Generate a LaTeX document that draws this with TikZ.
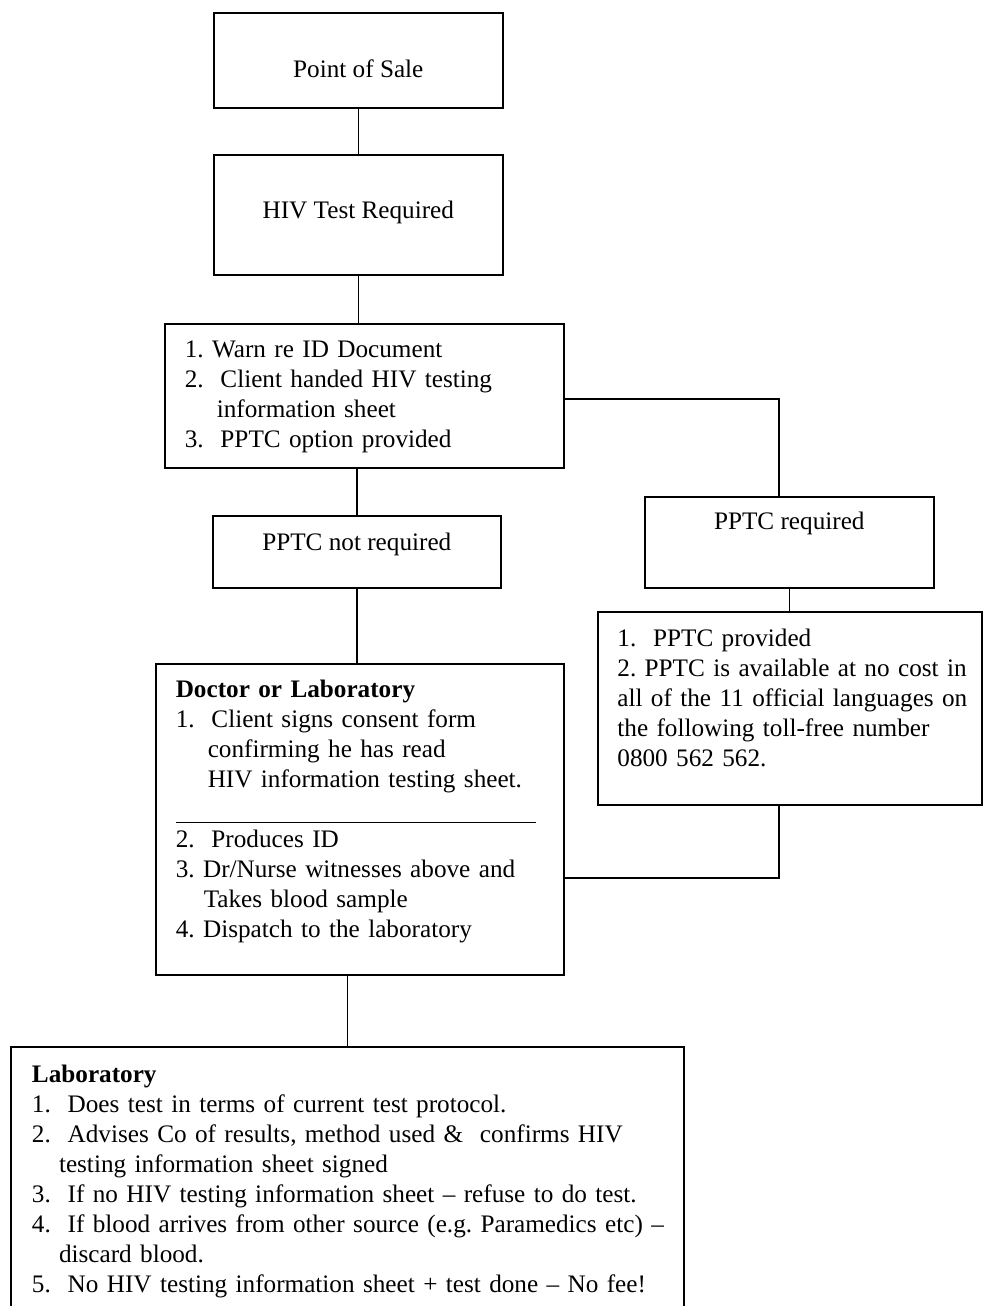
\documentclass[tikz,border=0pt]{standalone}
\usepackage{fontspec}
\setmainfont{Liberation Serif}
\frenchspacing
\tikzset{
  flowbox/.style={draw, line width=0.8pt, anchor=north west, inner sep=0pt, font=\fontsize{12.6}{15}\selectfont},
  listbox/.style={flowbox, align=left, execute at begin node={\leftskip=#1}},
  link/.style={line width=0.8pt},
}

\begin{document}
\begin{tikzpicture}[x=1pt, y=-1pt]
\useasboundingbox (0,0) rectangle (492.5,653);
\fill[white] (0,0) rectangle (492.5,653);
\clip (0,0) rectangle (492.5,653);
\node[flowbox, minimum width=144.5pt, text height=32.5pt, text depth=15pt] (pos) at (106.5,6) {Point of Sale};
\node[flowbox, minimum width=144.5pt, text height=32pt, text depth=28pt] (hiv) at (106.5,77) {HIV Test Required};
\node[listbox=10pt, text width=199.5pt, text height=17pt, text depth=55pt] (warn) at (82,161.5) {1. Warn re ID Document\\
2.\ \ Client handed HIV testing\\
\hspace*{16pt}information sheet\\
3.\ \ PPTC option provided};
\node[flowbox, minimum width=144pt, text height=17.5pt, text depth=18.5pt] (notreq) at (106,257.5) {PPTC not required};
\node[flowbox, minimum width=144.5pt, text height=16.5pt, text depth=29pt] (req) at (322,248) {PPTC required};
\node[listbox=9.8pt, text width=192pt, text height=17.5pt, text depth=79pt] (pp) at (298.5,305.5) {1.\ \ PPTC provided\\
2. PPTC is available at no cost in\\
all of the 11 official languages on\\
the following toll-free number\\
0800 562 562.};
\node[listbox=10pt, text width=204pt, text height=17pt, text depth=138.5pt] (doc) at (77.5,331.5) {\textbf{Doctor or Laboratory}\\
1.\ \ Client signs consent form\\
\hspace*{16pt}confirming he has read\\
\hspace*{16pt}HIV information testing sheet.\\
\rule[-2.5pt]{180pt}{0.5pt}\\
2.\ \ Produces ID\\
3. Dr/Nurse witnesses above and\\
\hspace*{14pt}Takes blood sample\\
4. Dispatch to the laboratory};
\node[listbox=10.6pt, text width=336.5pt, text height=18pt, text depth=200pt] (lab) at (5,523) {\textbf{Laboratory}\\
1.\ \ Does test in terms of current test protocol.\\
2.\ \ Advises Co of results, method used \&\ \ confirms HIV\\
\hspace*{13.5pt}testing information sheet signed\\
3.\ \ If no HIV testing information sheet -- refuse to do test.\\
4.\ \ If blood arrives from other source (e.g. Paramedics etc) --\\
\hspace*{13.5pt}discard blood.\\
5.\ \ No HIV testing information sheet + test done -- No fee!};
\coordinate (bendreq) at (389.5,199.5);
\coordinate (benddoc) at (389.5,439);
\foreach \a/\b in {pos/hiv, hiv/warn, notreq/doc, req/pp}
  \draw[link] (\a.south) -- (\a.south |- \b.north);
\foreach \a/\b in {warn/notreq, doc/lab}
  \draw[link] (\b.north |- \a.south) -- (\b.north);
\draw[link] (warn.east |- bendreq) -- (bendreq) -- (bendreq |- req.north);
\draw[link] (benddoc |- pp.south) -- (benddoc) -- (doc.east |- benddoc);
\end{tikzpicture}
\end{document}
